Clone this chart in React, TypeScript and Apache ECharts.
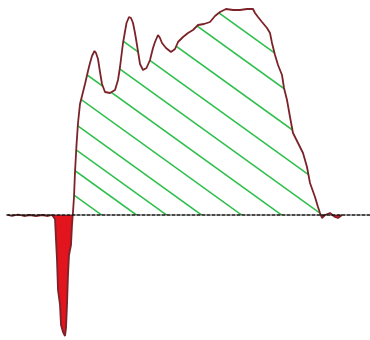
import React, { useEffect, useRef } from "react";
import * as echarts from "echarts";

// Horizontal position of each sample
const positions = [
  8, 12, 18, 24, 30, 36, 42, 48, 52, 55, 56, 57, 58, 60, 61, 63, 65, 66, 67, 68,
  69, 71, 72, 73, 74, 75, 76.5, 78, 80, 82, 85, 88, 90, 92, 94.5, 96, 98, 100,
  102, 105, 110, 115, 118, 120, 123, 126.5, 129, 131, 133, 135, 137, 140, 143,
  146.5, 150, 153, 155, 158, 160, 162, 166, 171, 175, 178, 183, 188, 193, 198,
  204, 210, 215, 220, 226, 233, 240, 247, 253, 255, 258, 262, 267, 270, 272,
  275, 278, 282, 284, 287, 290, 293, 298, 303, 307, 310, 315, 318, 320, 322,
  325, 330, 335, 338, 342,
];

// Signal amplitude at each sample
const amplitude = [
  0, -1, 0.5, -1, 0, -1, 0, -1, 0, -4, -25, -45, -75, -90, -110, -117, -121,
  -113, -90, -60, -40, -30, -10, 3, 18, 43, 70, 92, 111, 119, 131, 144, 152,
  159, 164, 162, 156, 143, 131, 123, 122, 125, 135, 148, 172, 192, 198, 197,
  192, 182, 170, 151, 145, 147, 155, 167, 173, 180, 177, 172, 167, 163, 166,
  173, 178, 182, 185, 190, 191, 193, 199, 203, 206, 205, 205, 206, 206, 202,
  198, 193, 187, 182, 172, 160, 150, 140, 127, 115, 98, 82, 72, 62, 48, 32, 18,
  8, 2, -3, 0, 2, -2, -3, 0,
];

// Style: where each hatch stroke crosses the baseline (px), and its slope
const HATCH_CROSSINGS = [103, 138, 168, 203, 243, 283, 324, 366, 412, 461, 501];
const HATCH_SLOPE = 0.72;
const HATCH_BASE_Y = 216;

export default function App() {
  const ref = useRef<HTMLDivElement>(null);

  useEffect(() => {
    const el = ref.current;
    if (!el) return;
    const chart = echarts.init(el, null, { renderer: "svg" });

    const canvas = document.createElement("canvas");
    canvas.width = 370;
    canvas.height = 340;
    const ctx = canvas.getContext("2d");
    if (ctx) {
      ctx.strokeStyle = "#2fbf4c";
      ctx.lineWidth = 1.6;
      for (const xb of HATCH_CROSSINGS) {
        ctx.beginPath();
        ctx.moveTo(0, HATCH_BASE_Y + HATCH_SLOPE * (0 - xb));
        ctx.lineTo(370, HATCH_BASE_Y + HATCH_SLOPE * (370 - xb));
        ctx.stroke();
      }
    }

    const full = positions.map((x, i) => [x, amplitude[i]]);
    const pos = positions.map((x, i) => [x, Math.max(amplitude[i], 0)]);
    const neg = positions.map((x, i) => [x, Math.min(amplitude[i], 0)]);

    chart.setOption({
      animation: false,
      grid: { left: 7, right: 0, top: 0, bottom: 0 },
      xAxis: {
        type: "value",
        min: 7,
        max: 370,
        z: 10,
        axisLine: {
          onZero: true,
          lineStyle: { color: "#111", type: [3, 2], width: 1.5 },
        },
        axisTick: { show: false },
        axisLabel: { show: false },
        splitLine: { show: false },
      },
      yAxis: {
        type: "value",
        min: -125,
        max: 215,
        axisLine: { show: false },
        axisTick: { show: false },
        axisLabel: { show: false },
        splitLine: { show: false },
      },
      series: [
        {
          type: "line",
          data: pos,
          symbol: "none",
          lineStyle: { width: 0 },
          areaStyle: {
            opacity: 1,
            color: {
              image: canvas,
              imageWidth: 370,
              imageHeight: 340,
              repeat: "repeat",
            },
          },
          z: 2,
        },
        {
          type: "line",
          data: neg,
          symbol: "none",
          lineStyle: { width: 0 },
          areaStyle: { opacity: 1, color: "#e2141d" },
          z: 2,
        },
        {
          type: "line",
          data: full,
          symbol: "none",
          lineStyle: { width: 1.8, color: "#7b2328" },
          z: 3,
        },
      ],
    });

    return () => chart.dispose();
  }, []);

  return (
    <div
      ref={ref}
      style={{
        position: "fixed",
        left: 0,
        top: 0,
        width: 370,
        height: 340,
        background: "#fff",
      }}
    />
  );
}
